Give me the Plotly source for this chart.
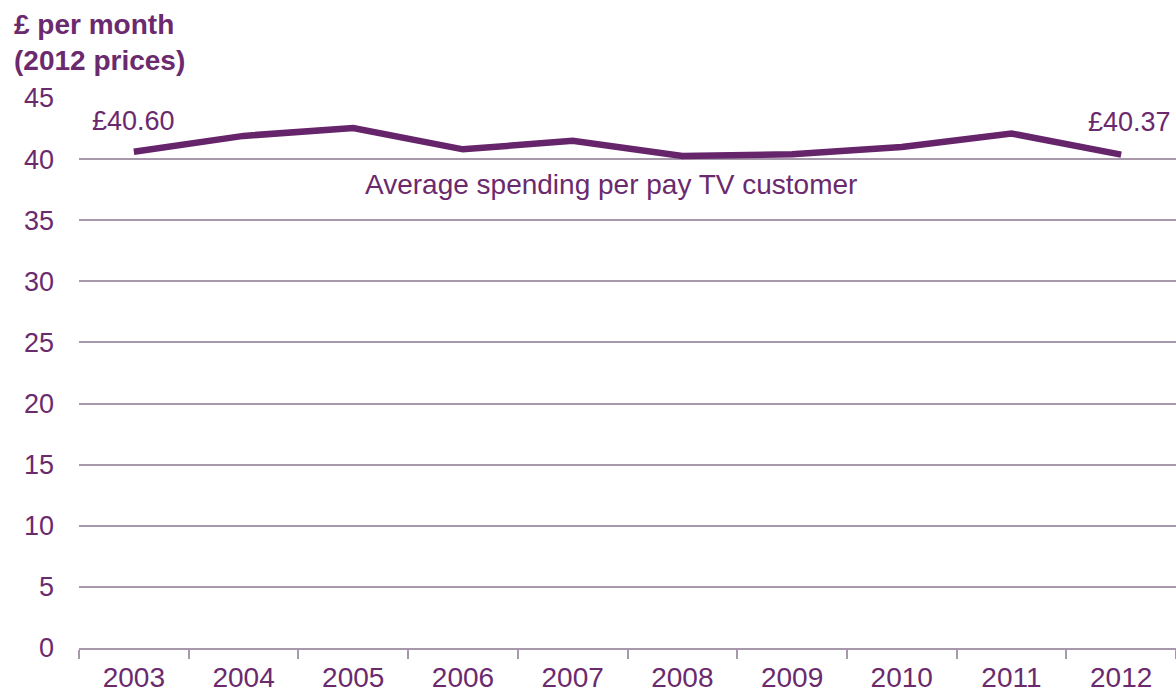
import plotly.graph_objects as go

years = ["2003", "2004", "2005", "2006", "2007", "2008", "2009", "2010", "2011", "2012"]
spend = [40.60, 41.9, 42.55, 40.8, 41.5, 40.25, 40.4, 41.0, 42.1, 40.37]
yticks = [0, 5, 10, 15, 20, 25, 30, 35, 40, 45]

purple = "#66246B"
textc = "#6B2A6E"
gridc = "#A898AC"
font = "Liberation Sans, Arial, sans-serif"

fig = go.Figure()
fig.add_trace(go.Scatter(x=years, y=spend, mode="lines",
                         line=dict(color=purple, width=6.5), hoverinfo="skip",
                         showlegend=False))

fig.update_layout(
    width=1176, height=693,
    margin=dict(l=79, r=0, t=98, b=45),
    plot_bgcolor="white", paper_bgcolor="white",
    font=dict(family=font, color=textc, size=28),
    xaxis=dict(type="category", range=[-0.5, 9.5], tickson="boundaries",
               ticks="outside", ticklen=9, tickcolor=gridc, tickwidth=1.5,
               showline=True, linecolor=gridc, linewidth=1.5, showgrid=False,
               ticklabelstandoff=4,
               tickfont=dict(size=28, color=textc), zeroline=False),
    yaxis=dict(range=[0, 45], tickvals=yticks, showgrid=True, gridcolor=gridc,
               gridwidth=1.5, zeroline=False, ticks="", ticklabelstandoff=24,
               tickfont=dict(size=27, color=textc), showline=False),
)

fig.add_annotation(x=0, y=spend[0], text="£" + f"{spend[0]:.2f}",
                   showarrow=False, xanchor="left", yanchor="bottom",
                   xshift=-44, yshift=14, font=dict(size=27, color=textc))
fig.add_annotation(x=9, y=spend[-1], text="£" + f"{spend[-1]:.2f}",
                   showarrow=False, xanchor="right", yanchor="bottom",
                   xshift=52, yshift=16, font=dict(size=27, color=textc))
fig.add_annotation(x=0.485, xref="paper", y=37.9, yref="y",
                   text="Average spending per pay TV customer",
                   showarrow=False, xanchor="center", yanchor="middle",
                   font=dict(size=28, color=textc))
fig.add_annotation(x=-0.061, xref="paper", y=1.1, yref="paper",
                   text="<b>£ per month<br>(2012 prices)</b>", showarrow=False,
                   align="left", xanchor="left", yanchor="middle",
                   font=dict(size=28, color=textc))

fig.write_html("out.html")
